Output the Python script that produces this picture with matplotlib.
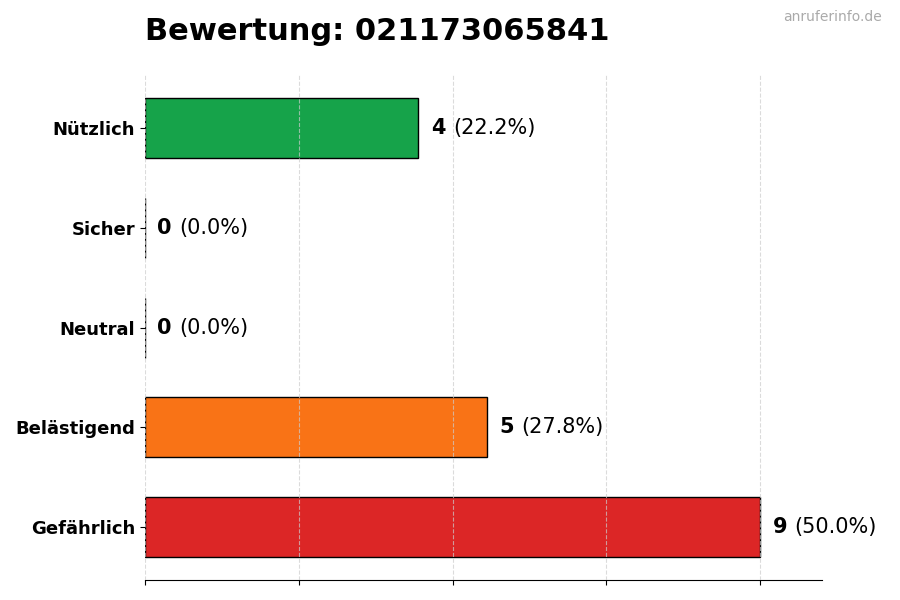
import matplotlib
matplotlib.use("Agg")
import matplotlib.pyplot as plt
from matplotlib.transforms import offset_copy

categories = ["Gefährlich", "Belästigend", "Neutral", "Sicher", "Nützlich"]
counts = [9, 5, 0, 0, 4]
colors = ["#dc2626", "#f97316", "#9ca3af", "#3b82f6", "#16a34a"]
title = "Bewertung: 021173065841"

total = sum(counts)
vmax = max(counts)

fig = plt.figure(figsize=(9, 6), dpi=100)
ax = fig.add_axes([0.161, 0.033, 0.752, 0.842])

ax.barh(range(len(categories)), counts, height=0.6, color=colors,
        edgecolor="black", linewidth=1)
ax.set_yticks(range(len(categories)))
ax.set_yticklabels(categories, fontsize=13, fontweight="bold")
ax.set_xlim(0, vmax * 1.1)
ax.set_xticks([vmax * f for f in (0, 0.25, 0.5, 0.75, 1.0)])
ax.set_xticklabels([])
ax.grid(axis="x", linestyle="--", color="#cccccc", linewidth=0.8, alpha=0.7)
ax.set_axisbelow(False)
for s in ("top", "right", "left"):
    ax.spines[s].set_visible(False)

fig.canvas.draw()
renderer = fig.canvas.get_renderer()
for i, c in enumerate(counts):
    pct = c / total * 100 if total else 0
    t = ax.text(c + vmax * 0.02, i, str(c), va="center", ha="left",
                fontsize=15, fontweight="bold")
    w = t.get_window_extent(renderer).width
    tr = offset_copy(ax.transData, fig=fig, x=w * 72 / fig.dpi + 5.5, y=0, units="points")
    ax.text(c + vmax * 0.02, i, f"({pct:.1f}%)", va="center", ha="left",
            fontsize=15, transform=tr)

fig.text(0.161, 0.948, title, fontsize=22, fontweight="bold", ha="left", va="center")
fig.text(0.98, 0.972, "anruferinfo.de", fontsize=10, color="#aaaaaa", ha="right", va="center")

fig.savefig("out.png", dpi=100)
